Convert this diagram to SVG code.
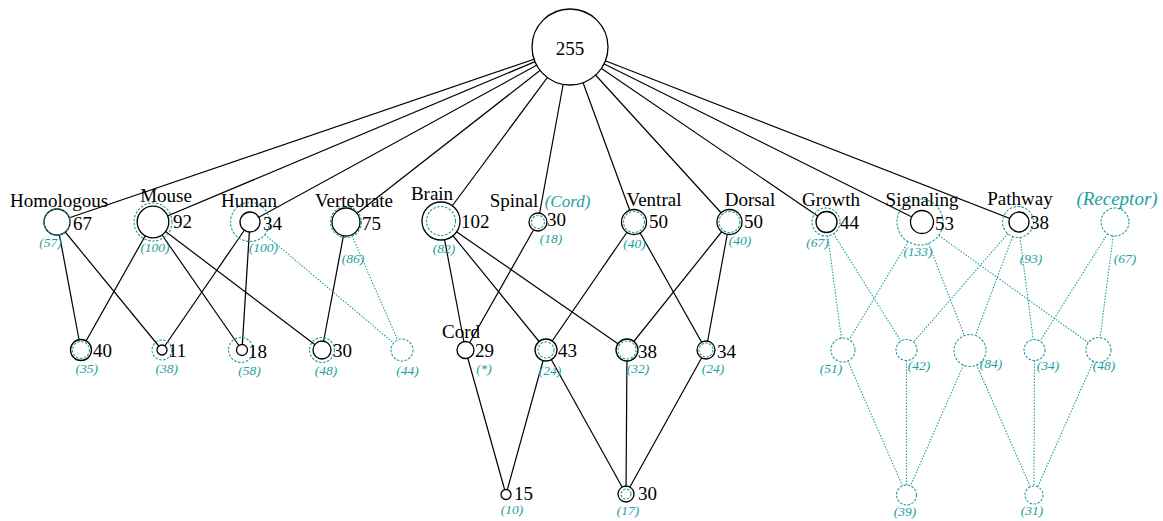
<svg xmlns="http://www.w3.org/2000/svg" width="1163" height="521" viewBox="0 0 1163 521">
<style>
text{font-family:"Liberation Serif","Times New Roman",serif;fill:#000}
.nm{font-size:19px;text-anchor:middle}
.v{font-size:19px}
.c{font-size:13.5px;font-style:italic;fill:#1e9e9e;text-anchor:middle}
.ct{font-style:italic;fill:#1e9e9e;text-anchor:middle}
.b{fill:#fff;stroke:#000;stroke-width:1.3}
.t{fill:none;stroke:#1e9e9e;stroke-width:1.1;stroke-dasharray:2.5 1.5}
.tw{fill:#fff;stroke:#1e9e9e;stroke-width:1.1;stroke-dasharray:2.5 1.5}
.e{stroke:#000;stroke-width:1.2;fill:none}
.te{stroke:#1e9e9e;stroke-width:1.1;stroke-dasharray:1.5 1.5;fill:none}
</style>
<g id="connectors">
<g class="e">
<line x1="570" y1="47" x2="57" y2="222"/>
<line x1="570" y1="47" x2="153" y2="222"/>
<line x1="570" y1="47" x2="250" y2="222"/>
<line x1="570" y1="47" x2="346" y2="222"/>
<line x1="570" y1="47" x2="441" y2="221"/>
<line x1="570" y1="47" x2="538" y2="222"/>
<line x1="570" y1="47" x2="634" y2="222"/>
<line x1="570" y1="47" x2="729.5" y2="222"/>
<line x1="570" y1="47" x2="826.5" y2="222"/>
<line x1="570" y1="47" x2="922" y2="222"/>
<line x1="570" y1="47" x2="1019" y2="222"/>
<line x1="57" y1="222" x2="81" y2="350"/>
<line x1="57" y1="222" x2="162" y2="350"/>
<line x1="153" y1="222" x2="81" y2="350"/>
<line x1="153" y1="222" x2="242" y2="350"/>
<line x1="153" y1="222" x2="322" y2="350"/>
<line x1="250" y1="222" x2="162" y2="350"/>
<line x1="250" y1="222" x2="242" y2="350"/>
<line x1="346" y1="222" x2="322" y2="350"/>
<line x1="441" y1="221" x2="465.5" y2="350"/>
<line x1="441" y1="221" x2="546" y2="350"/>
<line x1="441" y1="221" x2="627" y2="350"/>
<line x1="538" y1="222" x2="465.5" y2="350"/>
<line x1="634" y1="222" x2="546" y2="350"/>
<line x1="634" y1="222" x2="706" y2="350"/>
<line x1="729.5" y1="222" x2="627" y2="350"/>
<line x1="729.5" y1="222" x2="706" y2="350"/>
<line x1="465.5" y1="350" x2="506" y2="494.5"/>
<line x1="546" y1="350" x2="506" y2="494.5"/>
<line x1="546" y1="350" x2="626" y2="494"/>
<line x1="627" y1="350" x2="626" y2="494"/>
<line x1="706" y1="350" x2="626" y2="494"/>
</g>
<g class="te">
<line x1="264.9" y1="234.6" x2="393.6" y2="342.9"/>
<line x1="352" y1="235.7" x2="397.6" y2="339.9"/>
<line x1="827.8" y1="235.9" x2="841.4" y2="338.1"/>
<line x1="833.5" y1="233.8" x2="900.9" y2="341.1"/>
<line x1="908.1" y1="241.7" x2="849.2" y2="339.7"/>
<line x1="928.4" y1="243.4" x2="964.2" y2="335.1"/>
<line x1="938.7" y1="235.4" x2="1088.3" y2="342.7"/>
<line x1="1007.8" y1="233.7" x2="913.4" y2="342.1"/>
<line x1="1012.6" y1="236.5" x2="975.6" y2="335"/>
<line x1="1020" y1="237.4" x2="1033.2" y2="339.6"/>
<line x1="1107.5" y1="233.8" x2="1040.1" y2="341.1"/>
<line x1="1113.2" y1="235.9" x2="1100.1" y2="337.6"/>
<line x1="847.8" y1="361" x2="902.5" y2="485.8"/>
<line x1="906.5" y1="360.5" x2="906.5" y2="485"/>
<line x1="963.6" y1="364.7" x2="910.5" y2="485.8"/>
<line x1="976.4" y1="364.6" x2="1030.4" y2="486.8"/>
<line x1="1034.5" y1="360.5" x2="1034" y2="486"/>
<line x1="1093.4" y1="361.4" x2="1037.7" y2="486.8"/>
</g>
</g>
<g id="n-root"><circle class="b" cx="570" cy="47" r="38"/><text class="v" x="570" y="55" text-anchor="middle">255</text></g>
<g id="n-homologous"><circle class="b" cx="57" cy="222" r="13"/><circle class="t" cx="57" cy="222" r="13"/><text class="nm" x="59" y="207">Homologous</text><text class="v" x="73" y="230">67</text><text class="c" x="50.5" y="247">(57)</text></g>
<g id="n-mouse"><circle class="b" cx="153" cy="222" r="15.8"/><circle class="t" cx="153" cy="222" r="19"/><text class="nm" x="166" y="202">Mouse</text><text class="v" x="173" y="228">92</text><text class="c" x="155" y="252">(100)</text></g>
<g id="n-human"><circle class="b" cx="250" cy="222" r="10"/><circle class="t" cx="250" cy="222" r="19.5"/><text class="nm" x="249" y="207">Human</text><text class="v" x="263" y="230">34</text><text class="c" x="263.5" y="252">(100)</text></g>
<g id="n-vertebrate"><circle class="b" cx="346" cy="222" r="14"/><circle class="t" cx="346" cy="222" r="15.5"/><text class="nm" x="354" y="207">Vertebrate</text><text class="v" x="362" y="230">75</text><text class="c" x="353" y="263">(86)</text></g>
<g id="n-brain"><circle class="b" cx="441" cy="221" r="19"/><circle class="t" cx="441" cy="221" r="14.5"/><text class="nm" x="432" y="200">Brain</text><text class="v" x="461" y="228">102</text><text class="c" x="444" y="253">(82)</text></g>
<g id="n-spinal"><circle class="b" cx="538" cy="222" r="9"/><circle class="t" cx="538" cy="222" r="6.5"/><text class="nm" x="514" y="207">Spinal</text><text class="ct" x="567.5" y="207" font-size="17">(Cord)</text><text class="v" x="547" y="226">30</text><text class="c" x="551" y="243">(18)</text></g>
<g id="n-ventral"><circle class="b" cx="634" cy="222" r="12.5"/><circle class="t" cx="634" cy="222" r="10.5"/><text class="nm" x="654" y="206">Ventral</text><text class="v" x="649" y="228">50</text><text class="c" x="634.5" y="248">(40)</text></g>
<g id="n-dorsal"><circle class="b" cx="729.5" cy="222" r="12.5"/><circle class="t" cx="729.5" cy="222" r="10.5"/><text class="nm" x="750" y="206">Dorsal</text><text class="v" x="744" y="228">50</text><text class="c" x="740" y="245">(40)</text></g>
<g id="n-growth"><circle class="b" cx="826.5" cy="222" r="10.5"/><circle class="t" cx="826" cy="222" r="14"/><text class="nm" x="831" y="206">Growth</text><text class="v" x="840" y="229">44</text><text class="c" x="817.5" y="247">(67)</text></g>
<g id="n-signaling"><circle class="b" cx="922" cy="222" r="11.5"/><circle class="t" cx="920" cy="222" r="23"/><text class="nm" x="922" y="206">Signaling</text><text class="v" x="935" y="230">53</text><text class="c" x="918" y="256">(133)</text></g>
<g id="n-pathway"><circle class="b" cx="1019" cy="222" r="10"/><circle class="t" cx="1018" cy="222" r="15.5"/><text class="nm" x="1020" y="205">Pathway</text><text class="v" x="1030" y="229">38</text><text class="c" x="1031" y="263">(93)</text></g>
<g id="n-receptor"><circle class="tw" cx="1115" cy="222" r="14"/><text class="ct" x="1117" y="205" font-size="19">(Receptor)</text><text class="c" x="1125" y="263">(67)</text></g>
<g id="n-40"><circle class="b" cx="81" cy="350" r="10.5"/><circle class="t" cx="81" cy="350" r="8.5"/><text class="v" x="93" y="357">40</text><text class="c" x="86.7" y="373">(35)</text></g>
<g id="n-11"><circle class="b" cx="162" cy="350" r="5"/><circle class="t" cx="162" cy="350" r="10"/><text class="v" x="168" y="357">11</text><text class="c" x="166.7" y="373">(38)</text></g>
<g id="n-18"><circle class="b" cx="242" cy="350" r="5.5"/><circle class="t" cx="241" cy="350" r="12.5"/><text class="v" x="248" y="358">18</text><text class="c" x="249.5" y="375">(58)</text></g>
<g id="n-30a"><circle class="b" cx="322" cy="350" r="9"/><circle class="t" cx="322" cy="350" r="12.5"/><text class="v" x="333" y="357">30</text><text class="c" x="326" y="375">(48)</text></g>
<g id="n-44"><circle class="tw" cx="402" cy="350" r="11"/><text class="c" x="407.5" y="375">(44)</text></g>
<g id="n-cord"><circle class="b" cx="465.5" cy="350" r="8.5"/><text class="nm" x="461" y="338">Cord</text><text class="v" x="475" y="357">29</text><text class="c" x="484" y="373">(*)</text></g>
<g id="n-43"><circle class="b" cx="546" cy="350" r="11"/><circle class="t" cx="546" cy="350" r="8"/><text class="v" x="558" y="357">43</text><text class="c" x="550" y="375">(24)</text></g>
<g id="n-38"><circle class="b" cx="627" cy="350" r="11"/><circle class="t" cx="627" cy="350" r="9"/><text class="v" x="638" y="358">38</text><text class="c" x="638" y="373">(32)</text></g>
<g id="n-34"><circle class="b" cx="706" cy="350" r="9"/><circle class="t" cx="706" cy="350" r="7"/><text class="v" x="717" y="358">34</text><text class="c" x="713" y="373">(24)</text></g>
<g id="n-51"><circle class="tw" cx="843" cy="350" r="12"/><text class="c" x="831" y="373">(51)</text></g>
<g id="n-42"><circle class="tw" cx="906.5" cy="350" r="10.5"/><text class="c" x="919" y="370">(42)</text></g>
<g id="n-84"><circle class="tw" cx="970" cy="350.5" r="16"/><text class="c" x="991" y="368">(84)</text></g>
<g id="n-34t"><circle class="tw" cx="1034.5" cy="350" r="10.5"/><text class="c" x="1048" y="370">(34)</text></g>
<g id="n-48t"><circle class="tw" cx="1098.5" cy="350" r="12.5"/><text class="c" x="1104" y="370">(48)</text></g>
<g id="n-15"><circle class="b" cx="506" cy="494.5" r="5"/><text class="v" x="514" y="500">15</text><text class="c" x="512" y="514">(10)</text></g>
<g id="n-30b"><circle class="b" cx="626" cy="494" r="8"/><circle class="t" cx="626" cy="494" r="5"/><text class="v" x="638" y="500">30</text><text class="c" x="628" y="515">(17)</text></g>
<g id="n-39"><circle class="tw" cx="906.5" cy="495" r="10"/><text class="c" x="905" y="516">(39)</text></g>
<g id="n-31"><circle class="tw" cx="1034" cy="495" r="9"/><text class="c" x="1032" y="515">(31)</text></g>
</svg>
